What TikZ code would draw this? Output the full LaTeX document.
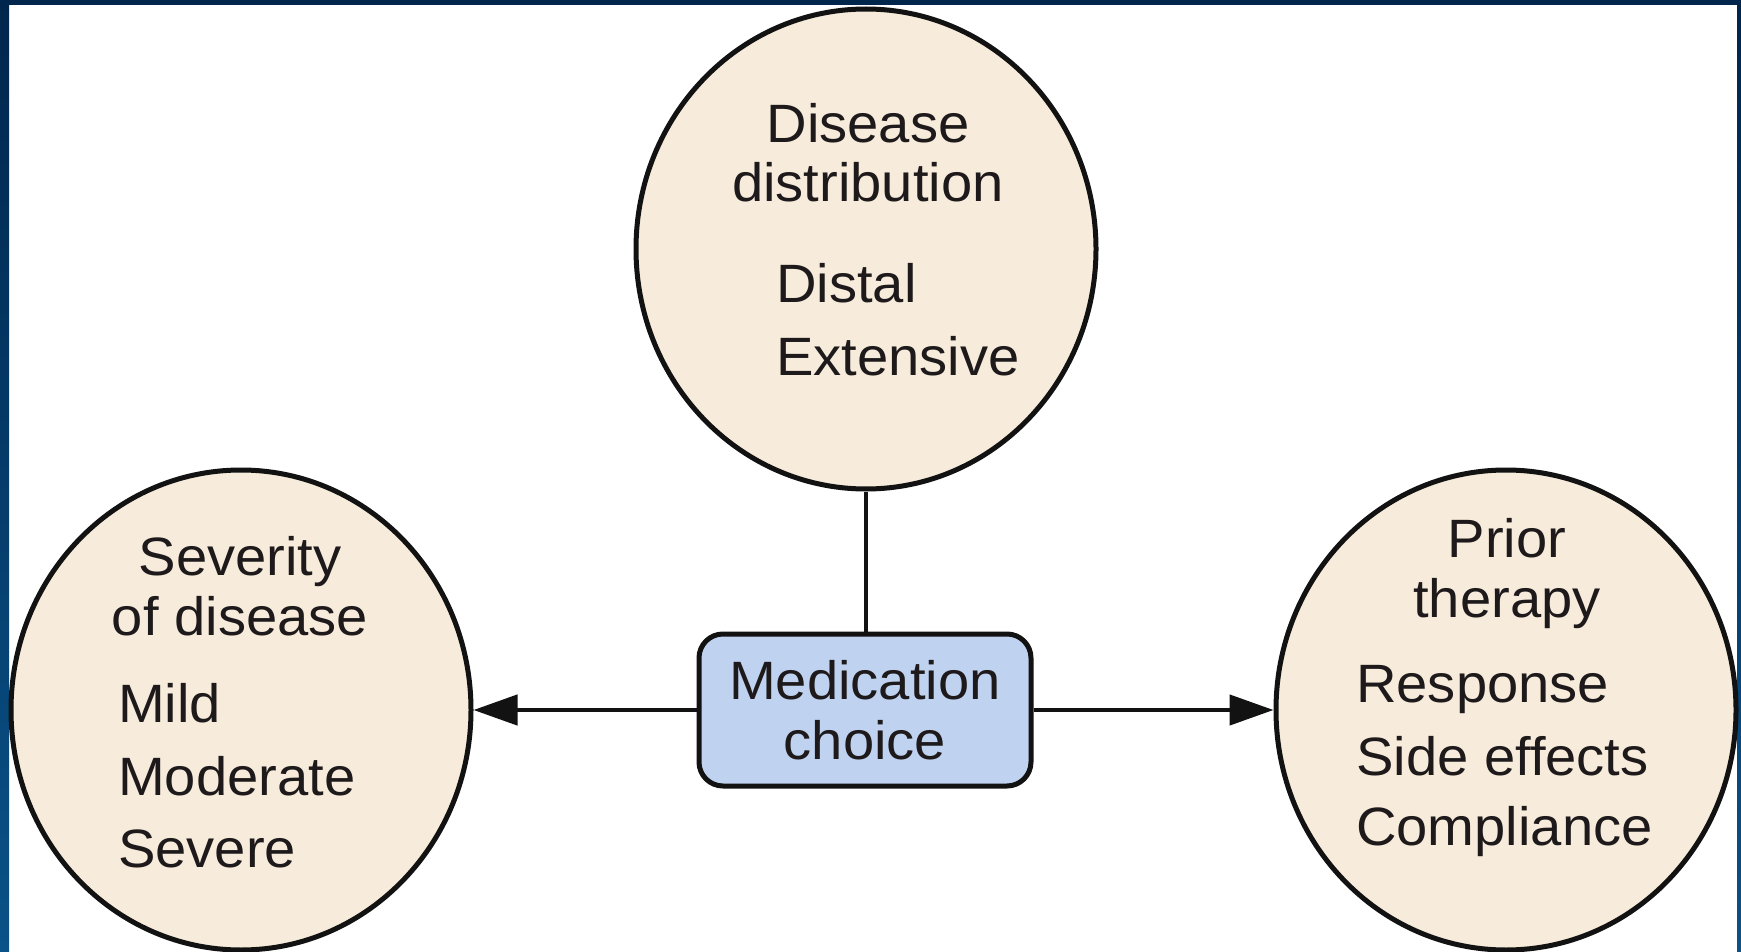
\documentclass[tikz,border=0pt]{standalone}
\usepackage{fontspec}
\setmainfont[FakeStretch=1.04]{Liberation Sans}
\usetikzlibrary{shapes.geometric,arrows.meta}
\definecolor{navy}{HTML}{00264D}
\definecolor{navyblue}{HTML}{0A5288}
\definecolor{cream}{HTML}{F7ECDB}
\definecolor{boxblue}{HTML}{BFD3F1}
\definecolor{ink}{HTML}{121212}
\definecolor{txt}{HTML}{1E1A1B}
\tikzset{
  bubble/.style={ellipse, draw=ink, fill=cream, line width=5pt, minimum width=460pt, minimum height=480pt, inner sep=0pt},
  medbox/.style={rectangle, rounded corners=24pt, draw=ink, fill=boxblue, line width=5pt, minimum width=332pt, minimum height=152pt, align=center, text=txt, font=\fontsize{54}{60}\selectfont},
  ttl/.style={anchor=base, inner sep=0pt, text=txt, font=\fontsize{54}{60}\selectfont},
  itm/.style={anchor=base west, inner sep=0pt, text=txt, font=\fontsize{54}{60}\selectfont},
  conn/.style={draw=ink, line width=4.5pt},
  arr/.style={conn, -{Triangle[length=44pt,width=30pt]}}
}
\begin{document}
\begin{tikzpicture}[x=1pt,y=-1pt]
\useasboundingbox (0,0) rectangle (1741,952);
\fill[white] (0,0) rectangle (1741,952);
\shade[top color=navy, bottom color=navyblue] (0,0) rectangle (9,952);
\shade[top color=navy, bottom color=navyblue] (1737,0) rectangle (1741,952);
\fill[navy] (0,0) rectangle (1741,5);

\node[bubble] (top) at (866,249) {};
\node[bubble] (left) at (241,710) {};
\node[bubble] (right) at (1506,710) {};
\node[medbox] (med) at (865,710) {Medication\\choice};

\draw[conn] (top.south) -- (top.south |- med.north);
\draw[arr] (med.west) -- (left.east);
\draw[arr] (med.east) -- (right.west);

\node[ttl] (t1) at (868,143) {Disease};
\node[ttl] (t2) at (868,202) {distribution};
\node[itm] (t3) at (776,302) {Distal};
\node[itm] (t4) at (776,375) {Extensive};

\node[ttl] (l1) at (240,575) {Severity};
\node[ttl] (l2) at (240,635) {of disease};
\node[itm] (l3) at (118,722) {Mild};
\node[itm] (l4) at (118,795) {Moderate};
\node[itm] (l5) at (118,867) {Severe};

\node[ttl] (r1) at (1507,557) {Prior};
\node[ttl] (r2) at (1507,617) {therapy};
\node[itm] (r3) at (1356,702) {Response};
\node[itm] (r4) at (1356,775) {Side effects};
\node[itm] (r5) at (1356,845) {Compliance};
\end{tikzpicture}
\end{document}
